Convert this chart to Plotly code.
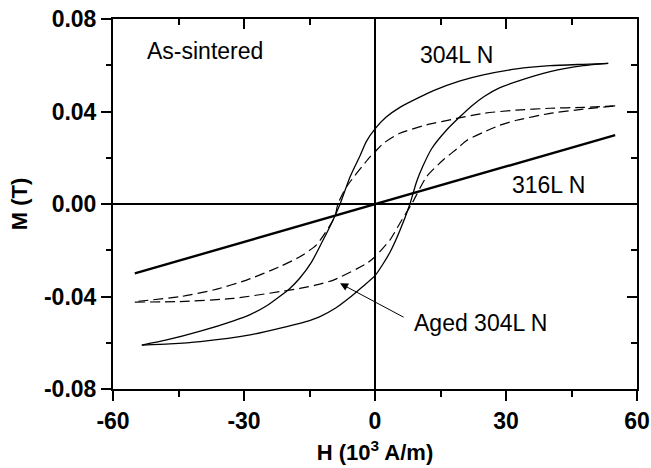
import plotly.graph_objects as go

# 304L N as-sintered hysteresis loop (solid)
h_304_desc = [53.4, 47.7, 40.1, 32.4, 24.8, 19.5, 13.4, 10.0, 5.7, 2.5, 0.0, -2.0, -3.4, -5.7, -8.0, -10.0, -12.0, -14.5, -17.2, -19.5, -24.8, -28.6, -32.4, -40.0, -47.7, -53.4]
m_304_desc = [0.0608, 0.0604, 0.0598, 0.0584, 0.0558, 0.0532, 0.0490, 0.0460, 0.0418, 0.0375, 0.0325, 0.0270, 0.0210, 0.0118, 0.0, -0.0085, -0.0160, -0.0250, -0.0320, -0.0365, -0.0440, -0.0478, -0.0505, -0.0550, -0.0588, -0.0610]
h_304_asc = [-53.4, -47.0, -40.0, -28.6, -20.2, -16.0, -12.6, -9.0, -6.0, -3.0, 0.0, 3.4, 5.7, 8.0, 9.5, 11.0, 13.0, 16.4, 19.5, 22.0, 25.0, 28.5, 32.4, 40.1, 47.7, 53.4]
m_304_asc = [-0.0610, -0.0605, -0.0595, -0.0566, -0.0530, -0.0510, -0.0487, -0.0450, -0.0408, -0.0360, -0.0310, -0.0210, -0.0115, 0.0, 0.0095, 0.0165, 0.0240, 0.0320, 0.0378, 0.0422, 0.0465, 0.0502, 0.0529, 0.0572, 0.0598, 0.0608]

# Aged 304L N hysteresis loop (dashed)
h_aged_desc = [55.0, 47.7, 40.1, 32.4, 24.8, 18.7, 11.8, 5.7, 1.9, 0.0, -1.1, -6.5, -8.5, -9.2, -13.4, -17.2, -21.8, -29.4, -37.0, -44.7, -55.0]
m_aged_desc = [0.0424, 0.0418, 0.0414, 0.0406, 0.0392, 0.0370, 0.0342, 0.0306, 0.0262, 0.0226, 0.0205, 0.0075, 0.0, -0.0055, -0.0177, -0.0228, -0.0271, -0.0329, -0.0372, -0.0401, -0.0422]
h_aged_asc = [-55.0, -44.7, -32.4, -21.8, -17.2, -13.4, -9.5, -1.9, 0.0, 3.4, 5.7, 8.4, 11.8, 15.6, 18.7, 21.0, 24.8, 28.5, 32.4, 40.1, 47.7, 55.0]
m_aged_asc = [-0.0424, -0.0422, -0.0408, -0.0379, -0.0365, -0.0350, -0.0329, -0.0257, -0.0228, -0.0156, -0.0083, 0.0, 0.0118, 0.0190, 0.0238, 0.0275, 0.0310, 0.0340, 0.0362, 0.0392, 0.0410, 0.0424]

# 316L N (nearly linear, paramagnetic)
h_316 = [-55.0, -27.0, 0.0, 27.0, 55.0]
m_316 = [-0.0300, -0.0148, 0.0, 0.0147, 0.0298]

x_ticks = [-60, -30, 0, 30, 60]
x_ticklabels = ["-60", "-30", "0", "30", "60"]
y_ticks = [-0.08, -0.04, 0.0, 0.04, 0.08]
y_ticklabels = ["-0.08", "-0.04", "0.00", "0.04", "0.08"]

FONT = "Liberation Sans, Arial, sans-serif"
FS = 23
solid = dict(color="black", width=1.3, shape="spline", smoothing=0.6)
dashed = dict(color="black", width=1.2, shape="spline", smoothing=0.6, dash="10px,5px")

fig = go.Figure()
fig.add_trace(go.Scatter(x=h_304_desc, y=m_304_desc, mode="lines", line=solid, showlegend=False))
fig.add_trace(go.Scatter(x=h_304_asc, y=m_304_asc, mode="lines", line=solid, showlegend=False))
fig.add_trace(go.Scatter(x=h_aged_desc, y=m_aged_desc, mode="lines", line=dashed, showlegend=False))
fig.add_trace(go.Scatter(x=h_aged_asc, y=m_aged_asc, mode="lines", line=dashed, showlegend=False))
fig.add_trace(go.Scatter(x=h_316, y=m_316, mode="lines", line=dict(color="black", width=2.4), showlegend=False))
# empty trace to carry the mirrored (top/right) axes
fig.add_trace(go.Scatter(x=[None], y=[None], xaxis="x2", yaxis="y2", mode="lines", showlegend=False, hoverinfo="skip"))

common = dict(showline=True, linecolor="black", linewidth=2, showgrid=False,
              tickcolor="black", tickwidth=2, automargin=False)

fig.update_layout(
    width=651, height=468,
    margin=dict(l=113, r=14, t=19, b=79),
    paper_bgcolor="white", plot_bgcolor="white",
    font=dict(family=FONT, color="black"),
    xaxis=dict(range=[-60, 60], tickvals=x_ticks, ticktext=x_ticklabels, ticks="outside", ticklen=10,
               minor=dict(dtick=15, tick0=-60, ticks="outside", ticklen=6, tickwidth=2, tickcolor="black"),
               zeroline=True, zerolinecolor="black", zerolinewidth=2,
               tickfont=dict(family=FONT, size=FS, weight="bold"),
               title=dict(text="H (10<sup>3</sup> A/m)", font=dict(family=FONT, size=22, weight="bold"), standoff=12),
               **common),
    yaxis=dict(range=[-0.08, 0.08], tickvals=y_ticks, ticktext=y_ticklabels, ticks="outside", ticklen=10,
               minor=dict(dtick=0.02, tick0=-0.08, ticks="outside", ticklen=5, tickwidth=2, tickcolor="black"),
               zeroline=True, zerolinecolor="black", zerolinewidth=2,
               tickfont=dict(family=FONT, size=FS, weight="bold"),
               title=dict(text="M (T)", font=dict(family=FONT, size=22, weight="bold"), standoff=10),
               **common),
    xaxis2=dict(range=[-60, 60], overlaying="x", side="top", anchor="y", tickvals=x_ticks, ticks="inside",
                ticklen=10, showticklabels=False, zeroline=False,
                minor=dict(dtick=15, tick0=-60, ticks="inside", ticklen=6, tickwidth=2, tickcolor="black"),
                **common),
    yaxis2=dict(range=[-0.08, 0.08], overlaying="y", side="right", anchor="x", tickvals=y_ticks, ticks="inside",
                ticklen=10, showticklabels=False, zeroline=False,
                minor=dict(dtick=0.02, tick0=-0.08, ticks="inside", ticklen=6, tickwidth=2, tickcolor="black"),
                **common),
)

ann_font = dict(family=FONT, size=FS, color="black")
fig.add_annotation(x=-52.7, y=0.0662, text="As-sintered", showarrow=False, xanchor="left", yanchor="middle", font=ann_font)
fig.add_annotation(x=9.85, y=0.0644, text="304L N", showarrow=False, xanchor="left", yanchor="middle", font=ann_font)
fig.add_annotation(x=30.9, y=0.0082, text="316L N", showarrow=False, xanchor="left", yanchor="middle", font=ann_font)
fig.add_annotation(x=8.5, y=-0.0515, text="Aged 304L N", showarrow=False, xanchor="left", yanchor="middle", font=ann_font)
fig.add_annotation(x=-8.0, y=-0.0343, ax=6.9, ay=-0.0493, axref="x", ayref="y", xref="x", yref="y",
                   text="", showarrow=True, arrowhead=2, arrowsize=1.6, arrowwidth=1, arrowcolor="black")

fig.write_html("out.html", config={"displayModeBar": False},
               post_script="document.body.style.margin='0';")
